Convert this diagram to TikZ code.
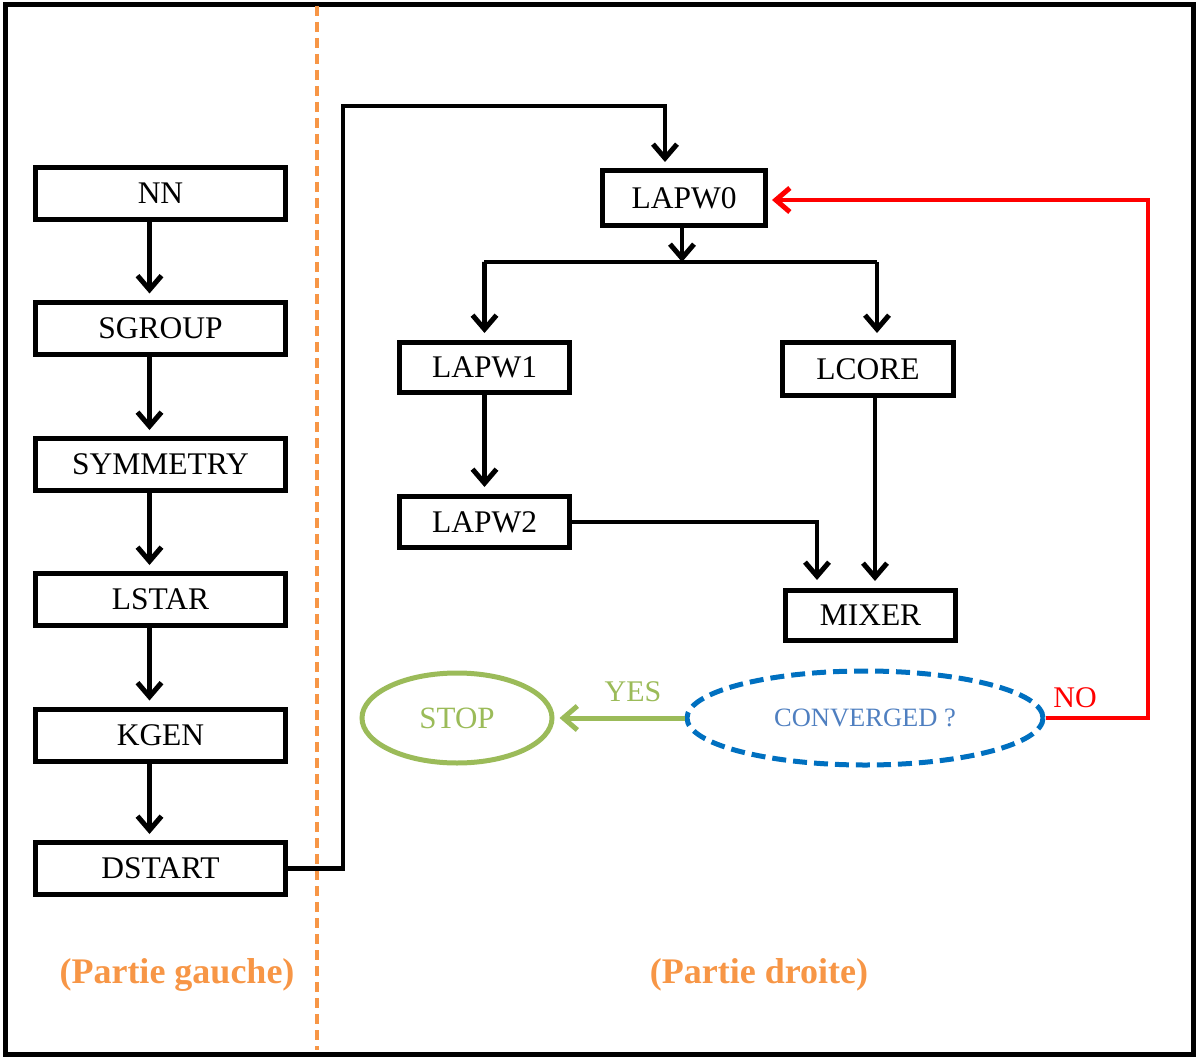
\documentclass[tikz,border=0pt]{standalone}
\usepackage{fontspec}
\setmainfont{Liberation Serif}
\usetikzlibrary{arrows.meta,shapes.geometric}
\definecolor{orng}{HTML}{F79646}
\definecolor{grn}{HTML}{9BBB59}
\definecolor{dblue}{HTML}{0070C0}
\definecolor{tblue}{HTML}{4F7FC0}
\definecolor{rd}{HTML}{FF0000}
\tikzset{
  box/.style={draw=black,line width=5pt,rectangle,inner sep=0pt,font=\fontsize{31.5}{36}\selectfont},
  lbox/.style={box,minimum width=250pt,minimum height=52pt},
  rbox/.style={box,minimum width=170pt,minimum height=51pt},
  conn/.style={line width=4.5pt,black},
  tip/.style={-{Straight Barb[length=14pt,width=24pt,line width=5pt]}},
}
\begin{document}
\begin{tikzpicture}[x=1pt,y=-1pt]
\useasboundingbox (0,0) rectangle (1198,1059);
\draw[line width=5pt] (5,5) rectangle (1193,1054);
\draw[orng,line width=3.5pt,dash pattern=on 10pt off 6pt] (317,6) -- (317,1050);
% left column
\node[lbox] (NN) at (160.5,193.5) {NN};
\node[lbox] (SG) at (160.5,328) {SGROUP};
\node[lbox] (SY) at (160.5,464.5) {SYMMETRY};
\node[lbox] (LS) at (160.5,599.5) {LSTAR};
\node[lbox] (KG) at (160.5,735) {KGEN};
\node[lbox] (DS) at (160.5,868.5) {DSTART};
\foreach \a/\b in {NN/SG,SG/SY,SY/LS,LS/KG,KG/DS}{
  \draw[conn,tip,shorten >=6pt] ([xshift=-11pt]\a.south) -- ([xshift=-11pt]\b.north);
}
% right column
\node[box,minimum width=163pt,minimum height=55pt] (L0) at (684,198) {LAPW0};
\node[rbox,minimum height=50pt] (L1) at (484.5,367.5) {LAPW1};
\node[rbox,minimum width=171pt,minimum height=53pt] (LC) at (868,369) {LCORE};
\node[rbox] (L2) at (484.5,522) {LAPW2};
\node[rbox,minimum height=50pt] (MX) at (870.5,615.5) {MIXER};
\node[ellipse,draw=dblue,line width=5pt,dash pattern=on 14pt off 7pt,minimum width=356pt,minimum height=94pt,inner sep=0pt,text=tblue,font=\fontsize{26.5}{30}\selectfont] (CV) at (865,718) {CONVERGED ?};
\node[ellipse,draw=grn,line width=5pt,minimum width=190pt,minimum height=90pt,inner sep=0pt,text=grn,font=\fontsize{31}{36}\selectfont] (ST) at (457,718) {STOP};
% DSTART -> LAPW0
\coordinate (c1) at (343,106);
\coordinate (c2) at (665,106);
\draw[conn,tip,shorten >=6pt] (DS.east) -- (DS.east -| c1) -- (c1) -- (c2) -- (c2 |- L0.north);
% LAPW0 split
\coordinate (sp) at (682,262);
\coordinate (sl) at (484,262);
\coordinate (sr) at (877,262);
\draw[conn,tip] (L0.south -| sp) -- (sp);
\draw[conn,tip,shorten >=7pt] (sl) -- (sl -| L1.north) -- (L1.north);
\draw[conn] (sl) -- (sr);
\draw[conn,tip,shorten >=7pt] (sr) -- (sr |- LC.north);
\draw[conn,tip,shorten >=7pt] (L1.south) -- (L2.north);
\coordinate (m1) at (817,521);
\draw[conn,tip,shorten >=8pt] (L2.east) -- (L2.east -| m1) -- (m1 |- MX.north);
\draw[conn,tip,shorten >=7pt] (LC.south -| 875,0) -- (MX.north -| 875,0);
% red loop
\coordinate (r1) at (1148,718);
\coordinate (r2) at (1148,200);
\draw[rd,line width=4.5pt,-{Straight Barb[length=14pt,width=24pt,line width=5pt]},shorten >=4pt] (CV.east) -- (r1) -- (r2) -- (r2 -| L0.east);
\node[text=rd,font=\fontsize{30}{34}\selectfont] (NO) at (1075,698) {NO};
% yes
\draw[grn,line width=5pt,-{Straight Barb[length=14pt,width=24pt,line width=5pt]},shorten >=5pt] (CV.west) -- (ST.east);
\node[text=grn,font=\fontsize{30}{34}\selectfont] (YES) at (633,692) {YES};
% labels
\node[text=orng,font=\bfseries\fontsize{36}{40}\selectfont] (PG) at (177,975) {(Partie gauche)};
\node[text=orng,font=\bfseries\fontsize{36}{40}\selectfont] (PD) at (759,975) {(Partie droite)};
\end{tikzpicture}
\end{document}
